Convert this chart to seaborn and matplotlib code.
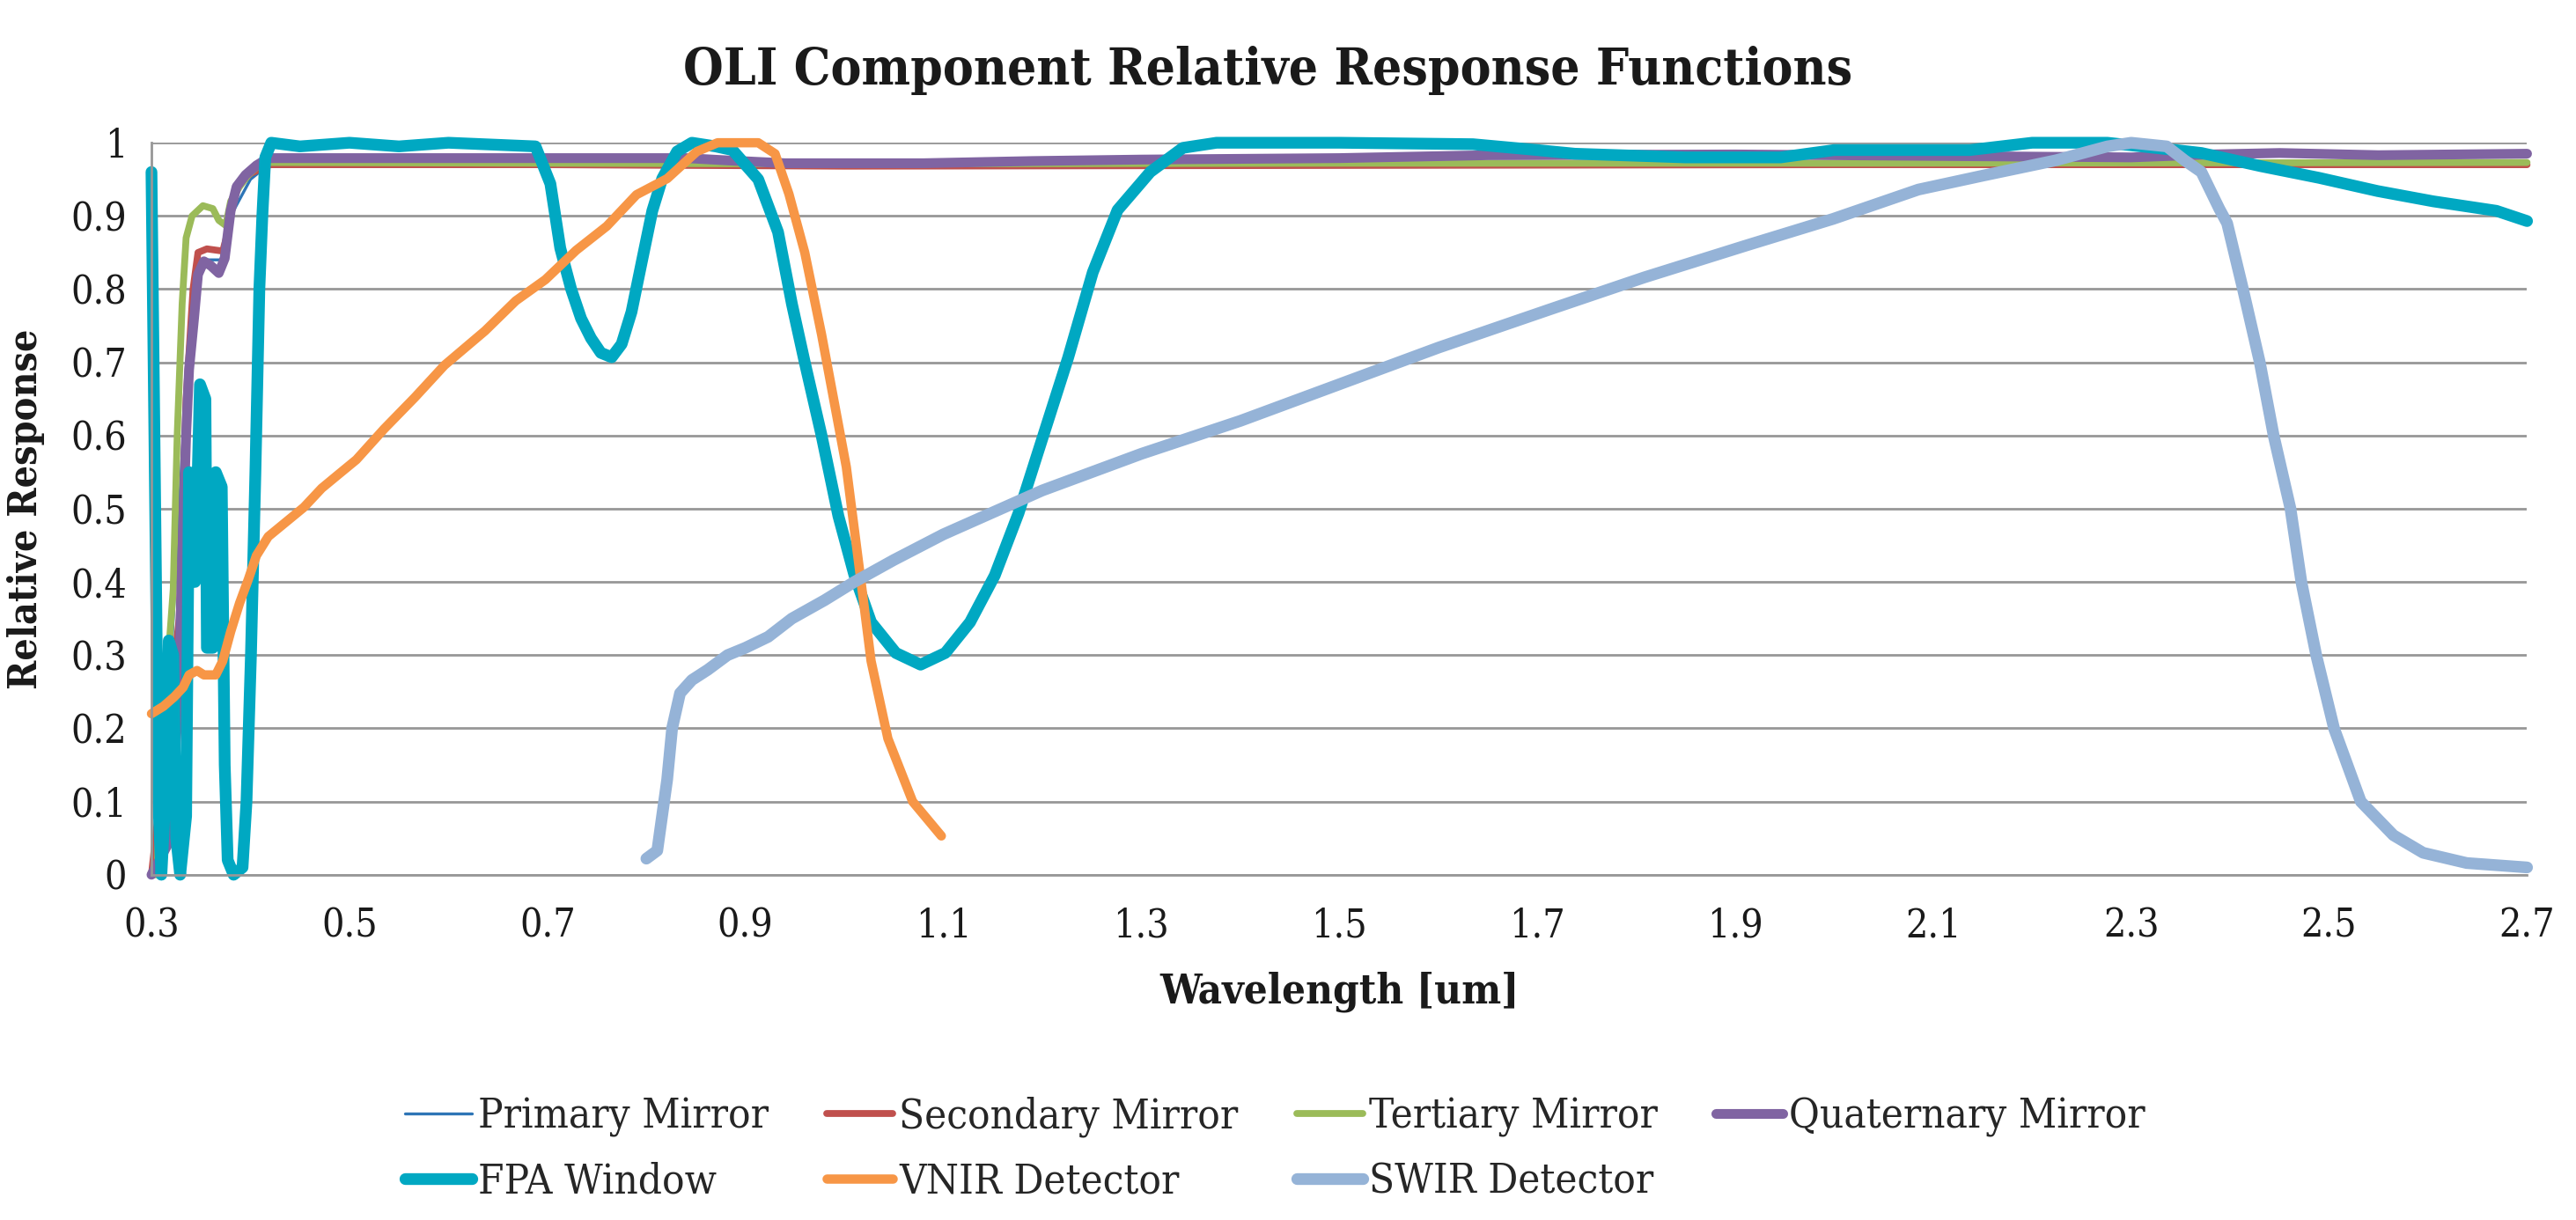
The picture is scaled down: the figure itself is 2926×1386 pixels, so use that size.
import numpy as np
import pandas as pd
import matplotlib
matplotlib.use('Agg')
import matplotlib.pyplot as plt
import seaborn as sns

# Curvas (comprimento de onda em um, resposta relativa)
primary_wl = [0.300, 0.320, 0.330, 0.340, 0.350, 0.370, 0.380, 0.400, 0.420, 1.000, 1.500, 2.000, 2.700]
primary_rr = [0.0, 0.30, 0.55, 0.78, 0.84, 0.84, 0.90, 0.95, 0.972, 0.972, 0.972, 0.972, 0.972]

secondary_wl = [0.300, 0.320, 0.328, 0.335, 0.342, 0.347, 0.356, 0.372, 0.377, 0.381, 0.390, 0.400,
                0.420, 0.700, 1.000, 1.500, 2.000, 2.700]
secondary_rr = [0.0, 0.25, 0.35, 0.65, 0.80, 0.85, 0.855, 0.852, 0.877, 0.92, 0.945, 0.958,
                0.970, 0.970, 0.968, 0.969, 0.970, 0.970]

tertiary_wl = [0.300, 0.306, 0.309, 0.315, 0.322, 0.326, 0.331, 0.335, 0.341, 0.352, 0.362, 0.368,
               0.375, 0.380, 0.389, 0.398, 0.409, 0.418, 0.700, 1.000, 1.500, 2.000, 2.700]
tertiary_rr = [0.0, 0.0, 0.24, 0.26, 0.39, 0.60, 0.78, 0.87, 0.90, 0.914, 0.91, 0.894,
               0.887, 0.92, 0.94, 0.956, 0.970, 0.973, 0.972, 0.971, 0.972, 0.972, 0.973]

quaternary_wl = [0.300, 0.320, 0.328, 0.331, 0.335, 0.338, 0.343, 0.347, 0.353, 0.360, 0.368, 0.374,
                 0.380, 0.386, 0.395, 0.406, 0.418, 0.840, 0.880, 0.940, 1.080, 1.190, 1.300, 1.500,
                 1.650, 1.900, 2.100, 2.300, 2.380, 2.450, 2.550, 2.700]
quaternary_rr = [0.0, 0.05, 0.27, 0.43, 0.60, 0.69, 0.76, 0.82, 0.838, 0.832, 0.822, 0.842,
                 0.907, 0.94, 0.956, 0.969, 0.979, 0.979, 0.976, 0.972, 0.972, 0.975, 0.977, 0.979,
                 0.983, 0.984, 0.982, 0.980, 0.984, 0.986, 0.983, 0.985]

fpa_wl = [0.300, 0.3025, 0.307, 0.310, 0.3145, 0.3175, 0.322, 0.325, 0.329, 0.335, 0.338, 0.344,
          0.349, 0.3545, 0.356, 0.362, 0.365, 0.371, 0.374, 0.377, 0.383, 0.392, 0.396, 0.4005,
          0.405, 0.409, 0.412, 0.415, 0.421, 0.450, 0.500, 0.550, 0.600, 0.688, 0.703, 0.713,
          0.724, 0.734, 0.744, 0.754, 0.765, 0.775, 0.785, 0.795, 0.806, 0.816, 0.831, 0.846,
          0.870, 0.887, 0.913, 0.933, 0.947, 0.960, 0.977, 0.994, 1.010, 1.027, 1.052, 1.077,
          1.102, 1.127, 1.152, 1.176, 1.201, 1.226, 1.251, 1.276, 1.309, 1.342, 1.376, 1.500,
          1.635, 1.700, 1.738, 1.850, 1.946, 2.000, 2.137, 2.200, 2.276, 2.345, 2.371, 2.431,
          2.490, 2.549, 2.605, 2.669, 2.700]
fpa_rr = [0.96, 0.66, 0.10, 0.0, 0.12, 0.32, 0.30, 0.05, 0.0, 0.08, 0.55, 0.40,
          0.67, 0.65, 0.31, 0.31, 0.55, 0.53, 0.15, 0.02, 0.0, 0.01, 0.10, 0.30,
          0.55, 0.80, 0.90, 0.98, 1.0, 0.995, 1.0, 0.995, 1.0, 0.995, 0.944, 0.856,
          0.80, 0.76, 0.733, 0.713, 0.707, 0.725, 0.769, 0.835, 0.907, 0.951, 0.988, 1.0,
          0.995, 0.99, 0.95, 0.878, 0.78, 0.70, 0.60, 0.49, 0.41, 0.345, 0.303, 0.287,
          0.303, 0.345, 0.409, 0.494, 0.60, 0.706, 0.823, 0.908, 0.96, 0.993, 1.0, 1.0,
          0.998, 0.99, 0.985, 0.98, 0.98, 0.99, 0.99, 1.0, 1.0, 0.99, 0.986, 0.968,
          0.952, 0.934, 0.92, 0.907, 0.893]

vnir_wl = [0.300, 0.312, 0.323, 0.332, 0.338, 0.346, 0.353, 0.365, 0.372, 0.380, 0.389, 0.398,
           0.406, 0.418, 0.436, 0.454, 0.472, 0.489, 0.507, 0.535, 0.566, 0.596, 0.637, 0.668,
           0.698, 0.729, 0.760, 0.790, 0.821, 0.851, 0.872, 0.913, 0.930, 0.944, 0.960, 0.977,
           1.002, 1.015, 1.027, 1.044, 1.069, 1.098]
vnir_rr = [0.22, 0.23, 0.243, 0.256, 0.273, 0.279, 0.273, 0.273, 0.292, 0.332, 0.371, 0.404,
           0.436, 0.462, 0.482, 0.502, 0.528, 0.547, 0.567, 0.609, 0.652, 0.696, 0.743, 0.784,
           0.813, 0.853, 0.886, 0.929, 0.951, 0.988, 1.0, 1.0, 0.985, 0.93, 0.85, 0.738,
           0.557, 0.42, 0.292, 0.186, 0.10, 0.053]

swir_wl = [0.800, 0.811, 0.821, 0.826, 0.834, 0.846, 0.862, 0.882, 0.900, 0.923, 0.947, 0.980,
           1.010, 1.050, 1.100, 1.150, 1.200, 1.250, 1.300, 1.400, 1.500, 1.600, 1.712, 1.808,
           1.912, 1.999, 2.085, 2.150, 2.224, 2.276, 2.300, 2.336, 2.354, 2.371, 2.389, 2.397,
           2.413, 2.430, 2.444, 2.461, 2.472, 2.487, 2.505, 2.532, 2.565, 2.595, 2.639, 2.700]
swir_rr = [0.022, 0.033, 0.13, 0.20, 0.248, 0.266, 0.28, 0.30, 0.31, 0.325, 0.35, 0.375,
           0.40, 0.43, 0.465, 0.495, 0.525, 0.55, 0.575, 0.62, 0.67, 0.72, 0.772, 0.816,
           0.86, 0.896, 0.936, 0.955, 0.976, 0.995, 1.0, 0.995, 0.976, 0.96, 0.91, 0.89,
           0.80, 0.70, 0.60, 0.50, 0.40, 0.30, 0.20, 0.10, 0.054, 0.03, 0.016, 0.01]

series_names = ['Primary Mirror', 'Secondary Mirror', 'Tertiary Mirror', 'Quaternary Mirror',
                'FPA Window', 'VNIR Detector', 'SWIR Detector']
series_wl = [primary_wl, secondary_wl, tertiary_wl, quaternary_wl, fpa_wl, vnir_wl, swir_wl]
series_rr = [primary_rr, secondary_rr, tertiary_rr, quaternary_rr, fpa_rr, vnir_rr, swir_rr]
series_colors = ['#2E75B6', '#C0504D', '#9BBB59', '#8064A2', '#00A8C2', '#F79646', '#95B3D7']
series_widths = [1.2, 2.8, 2.8, 4.0, 4.8, 3.8, 4.8]

x_ticks = [0.3, 0.5, 0.7, 0.9, 1.1, 1.3, 1.5, 1.7, 1.9, 2.1, 2.3, 2.5, 2.7]
y_ticks = [0, 0.1, 0.2, 0.3, 0.4, 0.5, 0.6, 0.7, 0.8, 0.9, 1]

sns.set_theme(style='white')
plt.rcParams['font.family'] = ['DejaVu Serif']
plt.rcParams['font.stretch'] = 'condensed'

# Monta um DataFrame longo para o seaborn
frames = []
for name, wl, rr in zip(series_names, series_wl, series_rr):
    frames.append(pd.DataFrame({'wl': wl, 'rr': rr, 'series': name}))
df = pd.concat(frames, ignore_index=True)

fig = plt.figure(figsize=(14.63, 6.93), dpi=200)
ax = fig.add_axes([0.0588, 0.283, 0.9222, 0.600])

handles = {}
for name, color, lw in zip(series_names, series_colors, series_widths):
    sub = df[df['series'] == name]
    sns.lineplot(data=sub, x='wl', y='rr', ax=ax, color=color, linewidth=lw,
                 estimator=None, sort=False, label=name, legend=False, clip_on=False)
    handles[name] = ax.lines[-1]

ax.set_xlim(0.3, 2.7)
ax.set_ylim(0, 1)
ax.set_xticks(x_ticks)
ax.set_xticklabels([f'{v:.1f}' for v in x_ticks])
ax.set_yticks(y_ticks)
ax.set_yticklabels([f'{v:g}' for v in y_ticks])
ax.tick_params(axis='both', length=0, labelsize=16, colors='#1a1a1a', pad=10)
ax.tick_params(axis='x', pad=13)

ax.yaxis.grid(True, color='#979797', linewidth=1.0, zorder=0)
ax.xaxis.grid(False)
ax.set_axisbelow(True)
for side in ['top', 'right']:
    ax.spines[side].set_visible(False)
for side in ['left', 'bottom']:
    ax.spines[side].set_color('#979797')
    ax.spines[side].set_linewidth(1.0)

ax.set_xlabel('Wavelength [um]', fontsize=17, fontweight='bold', color='#1a1a1a', labelpad=11)
ax.set_ylabel('')
fig.text(0.010, 0.583, 'Relative Response', rotation=90, ha='center', va='center',
         fontsize=16, fontweight='bold', color='#1a1a1a')

fig.text(0.492, 0.942, 'OLI Component Relative Response Functions', ha='center', va='center',
         fontsize=21, fontweight='bold', color='#1a1a1a')

# Ordem das colunas da legenda igual à do Excel (4 colunas, preenchidas por linha)
order = ['Primary Mirror', 'FPA Window', 'Secondary Mirror', 'VNIR Detector',
         'Tertiary Mirror', 'SWIR Detector', 'Quaternary Mirror']
fig.legend([handles[n] for n in order], order, loc='center', bbox_to_anchor=(0.495, 0.058),
           ncol=4, frameon=False, fontsize=17, handlelength=1.6, handletextpad=0.15,
           columnspacing=1.4, labelspacing=0.6)

fig.savefig('out.png', dpi=200)
